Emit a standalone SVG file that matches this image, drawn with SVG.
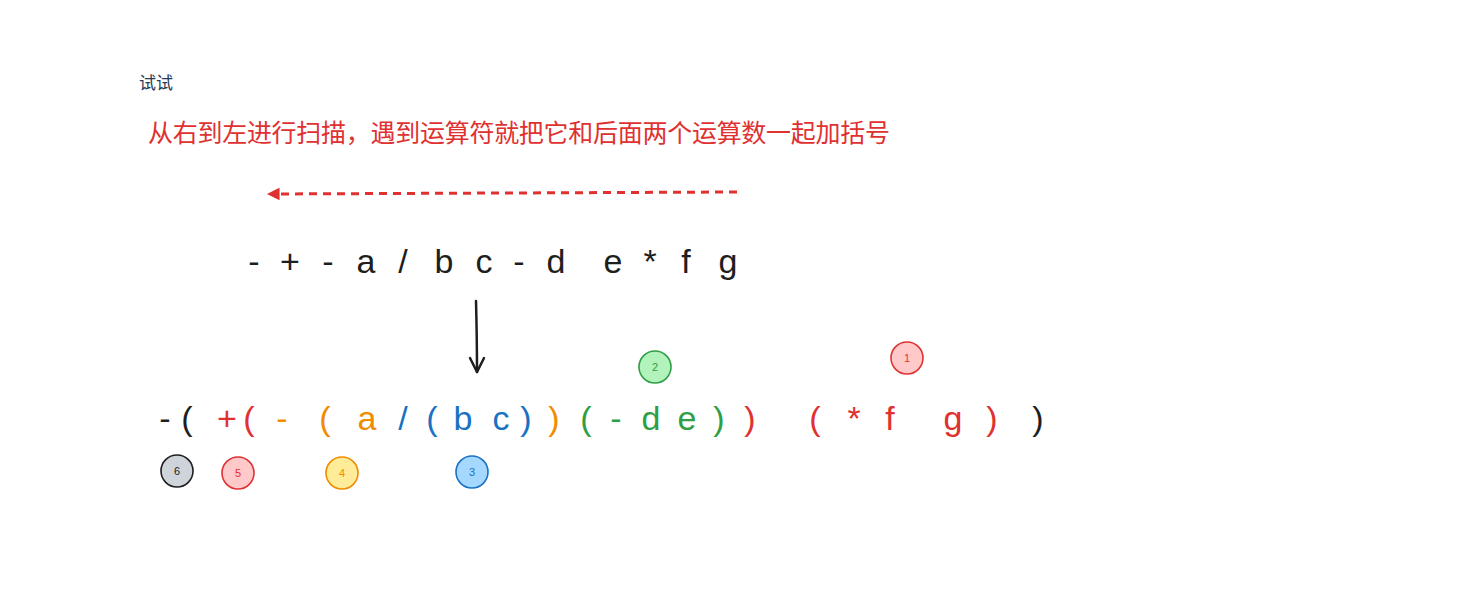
<svg xmlns="http://www.w3.org/2000/svg" width="1472" height="616" viewBox="0 0 1472 616">
<defs>
<style>
.hw{font-family:"Liberation Sans","DejaVu Sans",sans-serif;font-size:34px;text-anchor:middle}
.k{fill:#1e1e1e}.r{fill:#e03131}.o{fill:#f08c00}.b{fill:#1971c2}.g{fill:#2f9e44}
.num{font-family:"Liberation Sans",sans-serif;font-size:11px;text-anchor:middle}
.cjk{font-family:"Noto Sans CJK SC",sans-serif}
.badge{stroke-width:1.6}
</style>
<marker id="tri" viewBox="0 0 10 10" refX="6" refY="5" markerWidth="5" markerHeight="4.2" orient="auto" markerUnits="strokeWidth">
<path d="M0 0 L10 5 L0 10 Z" fill="#e03131"/>
</marker>
</defs>
<rect width="1472" height="616" fill="#ffffff"/>

<g id="label-shishi"><text x="139" y="89" class="cjk" font-size="17" fill="#263a55">试试</text></g>
<g id="title"><text x="148" y="142" class="cjk" font-size="25" fill="#e03131" textLength="742" lengthAdjust="spacing">从右到左进行扫描，遇到运算符就把它和后面两个运算数一起加括号</text></g>

<g id="prefix-expr" class="hw k">
<text x="254" y="273">-</text>
<text x="290" y="273">+</text>
<text x="328" y="273">-</text>
<text x="366" y="273">a</text>
<text x="403" y="273">/</text>
<text x="444" y="273">b</text>
<text x="484" y="273">c</text>
<text x="519" y="273">-</text>
<text x="556" y="273">d</text>
<text x="613" y="273">e</text>
<text x="650" y="273">*</text>
<text x="686" y="273">f</text>
<text x="728" y="273">g</text>
</g>

<g id="connectors" fill="none" stroke-linecap="round" stroke-linejoin="round">
<path d="M737 192 L272 194" stroke="#e03131" stroke-width="3" stroke-dasharray="8 6" stroke-linecap="butt" marker-end="url(#tri)"/>
<path d="M476 301 Q477 340 477 372" stroke="#1e1e1e" stroke-width="2.5"/>
<path d="M470 358 L477 372 L484 358" stroke="#1e1e1e" stroke-width="2.5"/>
</g>

<g id="infix-expr" class="hw">
<text x="165" y="430" class="k">-</text>
<text x="187" y="430" class="k">(</text>
<text x="227" y="430" class="r">+</text>
<text x="249" y="430" class="r">(</text>
<text x="282" y="430" class="o">-</text>
<text x="325" y="430" class="o">(</text>
<text x="367" y="430" class="o">a</text>
<text x="403" y="430" class="b">/</text>
<text x="432" y="430" class="b">(</text>
<text x="463" y="430" class="b">b</text>
<text x="501" y="430" class="b">c</text>
<text x="526" y="430" class="b">)</text>
<text x="554" y="430" class="o">)</text>
<text x="586" y="430" class="g">(</text>
<text x="616" y="430" class="g">-</text>
<text x="651" y="430" class="g">d</text>
<text x="687" y="430" class="g">e</text>
<text x="719" y="430" class="g">)</text>
<text x="750" y="430" class="r">)</text>
<text x="815" y="430" class="r">(</text>
<text x="854" y="430" class="r">*</text>
<text x="890" y="430" class="r">f</text>
<text x="953" y="430" class="r">g</text>
<text x="992" y="430" class="r">)</text>
<text x="1038" y="430" class="k">)</text>
</g>

<g id="badge-1"><circle cx="907" cy="358" r="16" fill="#ffc9c9" stroke="#e03131" class="badge"/><text x="907" y="362" class="num" fill="#e03131">1</text></g>
<g id="badge-2"><circle cx="655" cy="367" r="16" fill="#b2f2bb" stroke="#2f9e44" class="badge"/><text x="655" y="371" class="num" fill="#2f9e44">2</text></g>
<g id="badge-3"><circle cx="472" cy="472" r="16" fill="#a5d8ff" stroke="#1971c2" class="badge"/><text x="472" y="476" class="num" fill="#1971c2">3</text></g>
<g id="badge-4"><circle cx="342" cy="473" r="16" fill="#ffec99" stroke="#f08c00" class="badge"/><text x="342" y="477" class="num" fill="#f08c00">4</text></g>
<g id="badge-5"><circle cx="238" cy="473" r="16" fill="#ffc9c9" stroke="#e03131" class="badge"/><text x="238" y="477" class="num" fill="#e03131">5</text></g>
<g id="badge-6"><circle cx="177" cy="471" r="16" fill="#ced4da" stroke="#1e1e1e" class="badge"/><text x="177" y="475" class="num" fill="#1e1e1e">6</text></g>
</svg>
